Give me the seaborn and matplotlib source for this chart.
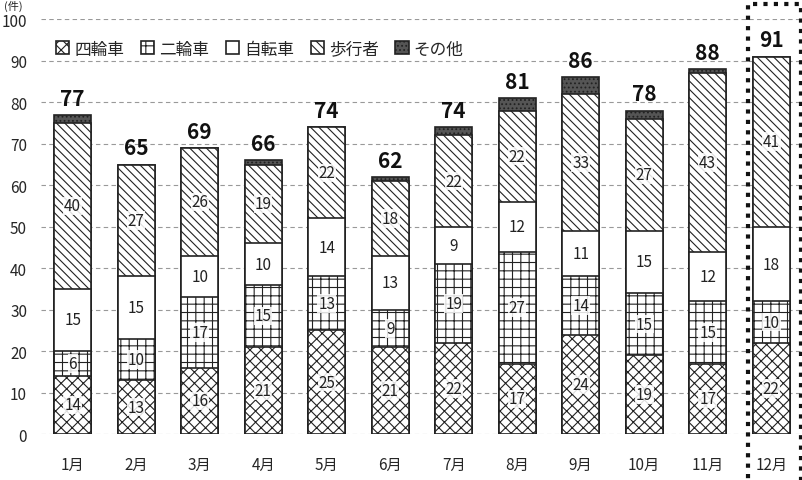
import pandas as pd
import matplotlib.pyplot as plt
import seaborn as sns
from matplotlib.patches import Rectangle

# Data (件)
months = ['1月', '2月', '3月', '4月', '5月', '6月', '7月', '8月', '9月', '10月', '11月', '12月']
four_wheel = [14, 13, 16, 21, 25, 21, 22, 17, 24, 19, 17, 22]
two_wheel = [6, 10, 17, 15, 13, 9, 19, 27, 14, 15, 15, 10]
bicycle = [15, 15, 10, 10, 14, 13, 9, 12, 11, 15, 12, 18]
pedestrian = [40, 27, 26, 19, 22, 18, 22, 22, 33, 27, 43, 41]
other = [2, 0, 0, 1, 0, 1, 2, 3, 4, 2, 1, 0]

series = ['四輪車', '二輪車', '自転車', '歩行者', 'その他']
values = [four_wheel, two_wheel, bicycle, pedestrian, other]
colors = ['white', 'white', 'white', 'white', '#555555']
hatches = ['xxx', '++', '', '\\\\\\\\', '....']

sns.set_theme(style='white')
plt.rcParams['font.family'] = ['Noto Sans CJK JP', 'DejaVu Sans']
plt.rcParams['hatch.linewidth'] = 0.8

df = pd.DataFrame(dict(zip(series, values)), index=months)
cum = df.cumsum(axis=1)
totals = cum[series[-1]]

fig = plt.figure(figsize=(8.03, 4.81), dpi=100)
ax = fig.add_axes([0.051, 0.0956, 0.949, 0.862])

# stacked bars: draw the cumulative heights from the top series down
for i in range(len(series) - 1, -1, -1):
    name = series[i]
    sns.barplot(x=months, y=cum[name].values, color=colors[i], hatch=hatches[i],
                edgecolor='#222222', linewidth=1.2, width=0.58, ax=ax,
                saturation=1, label=name)

# segment labels
for j, m in enumerate(months):
    base = 0
    for i, name in enumerate(series[:4]):
        v = df.loc[m, name]
        if v > 0:
            ax.text(j, base + v / 2, str(v), ha='center', va='center', fontsize=11,
                    color='#222222',
                    bbox=dict(facecolor='white', edgecolor='none', pad=0.6, alpha=0.85))
        base += v
    ax.text(j, totals[m] + 1.5, str(totals[m]), ha='center', va='bottom',
            fontsize=15, fontweight='bold', color='#111111')

ax.set_ylim(0, 100)
ax.set_xlim(-0.5, 11.5)
ax.set_yticks(range(0, 101, 10))
ax.yaxis.grid(True, linestyle=(0, (4, 3)), color='#999999', linewidth=0.8)
ax.set_axisbelow(True)
for s in ax.spines.values():
    s.set_visible(False)
ax.tick_params(axis='y', labelsize=11, pad=4)
ax.tick_params(axis='x', labelsize=11, pad=10)
ax.set_xlabel('')
ax.set_ylabel('')

# legend in the original order
handles, labels = ax.get_legend_handles_labels()
order = [labels.index(n) for n in series]
ax.legend([handles[k] for k in order], series, loc='upper left',
          bbox_to_anchor=(0.0, 0.985), ncol=5, frameon=False, fontsize=12,
          handlelength=0.8, handleheight=0.8, handletextpad=0.3, columnspacing=1.0)

fig.text(0.005, 0.998, '(件)', fontsize=8, ha='left', va='top')

# dotted frame around December
fig.patches.append(Rectangle((0.932, -0.02), 0.066, 1.01, transform=fig.transFigure,
                             fill=False, linestyle=(0, (1, 1.5)), linewidth=3,
                             edgecolor='#111111'))

fig.savefig('out.png', dpi=100)
